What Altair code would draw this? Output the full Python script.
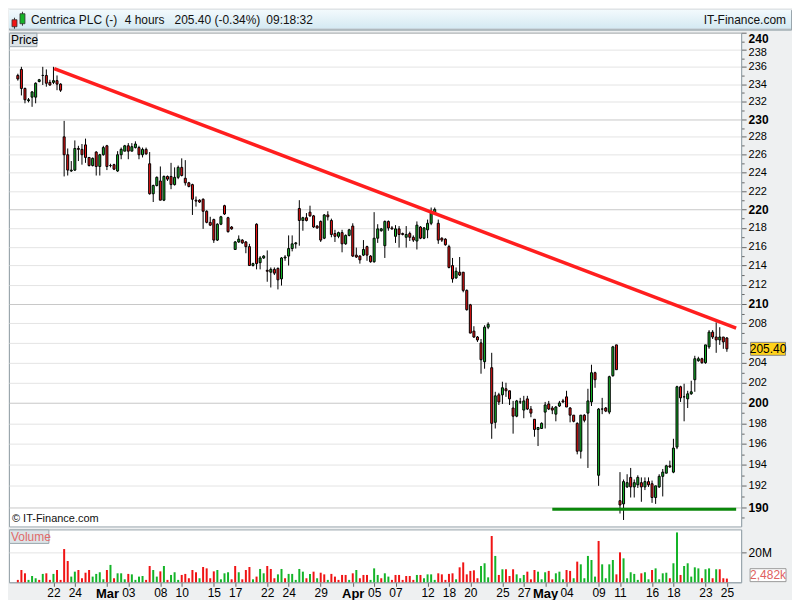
import json
import altair as alt
import pandas as pd
import numpy as np

# ---------------- data ----------------
opens = [235.0, 235.7, 233.5, 232.1, 232.5, 232.5, 234.3, 235.0, 235.0, 234.2,
         234.2, 234.4, 234.0, 228.0, 226.0, 224.2, 224.3, 226.7, 226.6, 227.1,
         225.7, 224.8, 226.3, 224.7, 226.0, 227.0, 224.8, 224.9, 224.2, 226.0,
         226.4, 227.0, 226.4, 226.8, 226.8, 226.0, 226.6, 225.0, 221.7, 222.6,
         223.1, 221.0, 223.6, 223.6, 222.7, 223.5, 224.6, 223.4, 222.9, 222.7,
         221.0, 221.0, 221.1, 219.8, 218.6, 218.9, 216.7, 218.4, 220.4, 219.1,
         218.1, 215.7, 216.5, 216.7, 216.5, 216.0, 214.0, 218.4, 214.3, 214.8,
         213.5, 213.3, 213.6, 213.7, 212.6, 214.8, 215.0, 215.8, 216.3, 220.1,
         218.8, 219.1, 219.7, 219.3, 218.2, 218.7, 216.9, 219.4, 218.8, 217.4,
         217.1, 217.5, 216.3, 217.2, 218.2, 215.1, 215.0, 215.1, 216.0, 215.0,
         214.4, 216.9, 217.7, 216.1, 218.7, 218.0, 217.1, 217.9, 217.4, 217.0,
         217.4, 217.0, 216.6, 218.1, 216.9, 217.8, 218.5, 219.6, 218.5, 216.9,
         216.8, 216.0, 214.0, 212.7, 213.3, 213.3, 211.4, 209.9, 207.2, 206.6,
         206.0, 204.1, 207.6, 203.5, 198.1, 200.8, 200.8, 201.4, 201.2, 199.5,
         198.7, 200.1, 199.3, 200.4, 199.4, 198.4, 197.4, 197.5, 199.1, 199.9,
         199.5, 198.9, 199.7, 200.2, 200.6, 199.5, 198.8, 198.0, 195.3, 198.8,
         199.0, 200.1, 203.0, 193.0, 199.4, 199.5, 199.1, 202.7, 205.8, 190.6,
         190.3, 191.9, 192.8, 191.9, 192.1, 192.3, 191.9, 192.4, 192.2, 190.9,
         191.9, 192.9, 193.2, 193.9, 193.3, 195.7, 201.6, 200.6, 200.4, 200.9,
         202.3, 204.2, 204.4, 204.0, 205.6, 207.1, 206.6, 206.3, 206.6, 206.5]

highs = [235.2, 236.0, 233.6, 232.4, 233.2, 234.2, 234.6, 236.0, 235.7, 234.5,
         236.0, 235.0, 234.1, 229.8, 226.7, 225.3, 227.6, 227.0, 227.2, 227.8,
         225.7, 225.7, 226.4, 226.1, 227.0, 227.1, 225.0, 225.0, 226.4, 226.8,
         227.1, 227.3, 227.3, 227.5, 227.0, 226.8, 226.8, 226.3, 222.7, 223.6,
         224.7, 223.7, 223.7, 225.1, 224.6, 224.8, 225.6, 225.4, 223.0, 222.8,
         221.4, 221.1, 221.2, 219.9, 219.2, 219.0, 218.5, 219.3, 220.5, 219.2,
         218.2, 216.6, 217.2, 216.8, 216.6, 216.3, 214.3, 218.5, 215.0, 215.1,
         215.6, 213.8, 213.8, 213.8, 214.9, 215.1, 217.2, 217.2, 216.5, 221.0,
         219.2, 219.6, 220.4, 219.4, 218.3, 218.8, 219.5, 219.8, 219.0, 217.8,
         217.6, 217.8, 217.3, 217.9, 218.5, 215.9, 215.1, 216.7, 216.1, 215.1,
         219.7, 218.4, 218.0, 218.8, 218.8, 218.2, 218.3, 218.2, 217.5, 218.2,
         217.6, 217.2, 218.7, 218.2, 218.1, 218.9, 220.2, 220.2, 218.9, 217.0,
         216.9, 216.2, 214.8, 213.8, 214.9, 213.3, 211.5, 210.0, 207.7, 206.7,
         206.4, 207.8, 208.1, 205.0, 201.1, 201.0, 202.1, 202.0, 201.2, 200.2,
         200.3, 200.5, 200.7, 200.7, 199.7, 198.4, 197.6, 198.1, 200.1, 200.2,
         199.7, 199.7, 200.2, 200.4, 201.2, 199.6, 198.8, 198.1, 198.8, 198.9,
         201.4, 203.8, 203.1, 199.5, 200.5, 199.6, 202.7, 205.7, 205.8, 193.3,
         192.6, 193.1, 193.7, 192.6, 193.0, 192.8, 192.8, 192.8, 192.5, 192.0,
         193.1, 193.6, 194.0, 194.4, 196.5, 201.7, 201.7, 201.9, 201.2, 202.2,
         204.7, 204.6, 204.5, 205.8, 207.3, 207.3, 208.1, 207.6, 206.6, 206.6]

lows = [234.4, 232.7, 231.8, 231.9, 231.4, 231.8, 234.2, 233.9, 233.7, 233.8,
        234.0, 233.3, 233.1, 223.6, 223.7, 224.1, 224.2, 225.3, 224.9, 225.1,
        224.7, 224.7, 223.7, 223.7, 225.9, 224.3, 224.6, 224.3, 224.1, 225.5,
        226.4, 225.5, 226.4, 226.7, 225.5, 225.7, 226.0, 221.6, 220.8, 222.5,
        221.0, 220.9, 223.1, 222.2, 222.6, 223.3, 223.6, 222.6, 222.4, 219.4,
        220.3, 220.7, 217.9, 218.5, 218.2, 216.4, 216.6, 218.3, 219.4, 217.5,
        217.8, 215.7, 216.4, 216.3, 215.3, 214.0, 213.9, 213.6, 213.6, 214.7,
        212.3, 211.7, 213.0, 211.5, 211.9, 214.5, 214.0, 215.5, 215.8, 216.1,
        217.7, 218.7, 219.2, 218.0, 217.9, 216.5, 216.8, 218.8, 217.0, 216.5,
        216.9, 215.4, 216.2, 217.1, 214.9, 214.8, 214.2, 215.0, 214.5, 214.3,
        214.3, 216.4, 217.6, 214.8, 217.7, 217.8, 216.4, 215.9, 217.2, 215.9,
        216.6, 216.5, 215.7, 216.8, 216.8, 216.9, 218.3, 219.4, 216.3, 216.5,
        216.1, 213.7, 212.2, 212.6, 212.9, 211.2, 209.3, 207.0, 206.5, 206.1,
        202.9, 203.4, 207.4, 196.5, 197.5, 199.8, 199.9, 200.6, 199.8, 197.0,
        198.6, 199.9, 198.5, 199.3, 198.6, 196.7, 195.8, 197.5, 197.5, 199.3,
        198.9, 198.2, 199.6, 200.0, 199.6, 198.1, 198.1, 195.0, 194.6, 198.1,
        193.7, 199.7, 201.5, 192.0, 198.9, 199.1, 198.9, 202.6, 203.3, 189.4,
        188.8, 191.8, 190.9, 190.9, 191.8, 190.5, 191.6, 191.9, 190.4, 190.3,
        191.8, 191.0, 193.2, 193.7, 193.2, 195.5, 200.1, 198.2, 199.5, 200.8,
        201.1, 204.1, 203.9, 203.9, 205.4, 206.4, 205.0, 205.8, 205.4, 205.1]

closes = [234.6, 233.5, 232.2, 232.2, 233.1, 234.1, 234.5, 235.0, 234.1, 233.9,
          234.4, 234.0, 233.3, 226.0, 224.3, 224.3, 226.7, 226.6, 226.0, 225.7,
          224.8, 225.6, 224.7, 226.0, 226.8, 224.7, 224.8, 224.4, 226.0, 226.6,
          227.0, 226.4, 226.9, 227.2, 226.0, 226.6, 226.1, 221.7, 222.6, 223.5,
          221.0, 223.6, 223.3, 222.7, 223.5, 224.6, 223.7, 222.9, 222.5, 221.1,
          220.9, 220.8, 219.8, 218.6, 218.3, 216.7, 218.4, 219.2, 219.5, 217.6,
          217.9, 216.5, 216.8, 216.4, 216.0, 214.0, 214.2, 214.2, 214.8, 215.0,
          213.4, 213.6, 213.2, 212.5, 214.8, 214.9, 215.8, 216.3, 216.4, 218.8,
          219.1, 218.8, 219.3, 218.1, 218.0, 216.7, 219.4, 219.2, 217.3, 217.1,
          217.5, 216.3, 217.2, 217.8, 215.0, 214.9, 214.6, 215.7, 215.1, 214.4,
          216.9, 217.9, 217.9, 218.7, 218.0, 217.9, 217.9, 217.3, 217.3, 217.3,
          217.0, 216.7, 218.3, 216.9, 218.0, 218.5, 219.6, 220.0, 216.7, 216.7,
          216.2, 213.8, 212.6, 213.4, 213.0, 211.4, 209.4, 207.0, 206.6, 206.3,
          204.3, 207.6, 207.9, 198.0, 200.7, 200.1, 201.5, 201.2, 200.4, 198.7,
          200.2, 200.1, 200.2, 199.4, 199.0, 197.4, 197.6, 198.0, 199.8, 199.4,
          199.3, 199.6, 200.0, 200.1, 199.6, 198.8, 198.2, 195.3, 198.8, 198.3,
          200.2, 203.0, 202.3, 199.4, 199.4, 199.2, 202.6, 205.6, 203.3, 190.2,
          192.4, 192.3, 191.9, 192.3, 192.8, 191.9, 192.4, 192.1, 190.9, 192.0,
          192.9, 193.3, 193.9, 193.8, 195.6, 201.6, 200.5, 200.6, 200.9, 201.1,
          204.4, 204.4, 204.0, 205.8, 207.1, 206.6, 206.3, 206.6, 206.1, 205.4]

volumes_m = [1.6, 8.2, 6.0, 1.6, 4.2, 2.7, 1.6, 5.6, 6.0, 1.6,
             5.6, 8.2, 1.6, 22.2, 14.2, 3.8, 7.1, 8.2, 2.7, 6.4,
             8.2, 3.8, 5.6, 6.7, 2.0, 8.2, 11.6, 2.7, 6.0, 6.0,
             2.0, 5.6, 5.3, 1.6, 3.8, 4.2, 1.6, 10.9, 8.2, 3.8,
             7.3, 10.9, 1.6, 4.9, 6.7, 1.6, 4.9, 5.6, 2.7, 8.2,
             6.7, 2.7, 10.2, 9.3, 2.7, 7.3, 8.2, 2.0, 6.0, 6.7,
             2.0, 10.9, 6.7, 2.0, 8.2, 10.2, 2.0, 3.8, 8.9, 6.0,
             10.9, 8.9, 2.7, 5.3, 8.9, 2.7, 5.6, 5.6, 1.6, 8.9,
             7.1, 2.7, 5.6, 7.1, 2.7, 6.4, 5.3, 1.6, 5.6, 3.8,
             1.6, 4.9, 4.9, 1.6, 6.0, 8.2, 2.7, 4.9, 4.9, 1.6,
             9.3, 4.9, 2.7, 6.0, 3.8, 1.6, 4.9, 4.9, 1.6, 4.2,
             4.2, 1.6, 4.9, 4.9, 2.7, 5.3, 5.3, 1.6, 6.0, 5.3,
             1.6, 5.6, 6.0, 2.0, 10.0, 13.3, 5.3, 7.6, 8.0, 2.7,
             10.9, 12.7, 3.3, 30.9, 17.6, 4.9, 8.7, 8.7, 4.2, 8.7,
             5.3, 2.7, 4.9, 7.1, 2.0, 8.2, 7.1, 2.0, 6.7, 7.6,
             2.0, 6.0, 7.1, 2.0, 8.2, 7.6, 2.7, 13.8, 12.0, 2.7,
             17.6, 14.9, 3.8, 27.6, 12.0, 2.7, 12.0, 14.9, 5.3, 20.0,
             16.0, 2.7, 6.7, 5.6, 1.6, 6.0, 6.7, 2.0, 8.2, 9.3,
             2.0, 6.0, 6.4, 2.7, 12.7, 33.3, 4.9, 10.9, 12.7, 3.8,
             10.0, 9.3, 2.7, 8.7, 9.3, 2.7, 8.7, 8.7, 2.7, 2.482]

vol_side = ["r", "r", "r", "g", "g", "g", "r", "g", "r", "r",
            "g", "r", "r", "r", "r", "g", "g", "r", "r", "r",
            "r", "g", "g", "g", "g", "r", "g", "r", "g", "g",
            "g", "r", "g", "g", "g", "g", "r", "r", "g", "g",
            "r", "g", "r", "g", "g", "g", "r", "r", "r", "r",
            "r", "g", "r", "r", "r", "r", "g", "g", "g", "g",
            "r", "r", "g", "r", "r", "r", "g", "r", "g", "g",
            "r", "r", "r", "g", "g", "r", "g", "g", "g", "g",
            "g", "r", "g", "r", "g", "r", "r", "g", "r", "r",
            "r", "r", "r", "g", "r", "g", "r", "r", "r", "g",
            "g", "g", "r", "g", "g", "r", "r", "r", "r", "r",
            "r", "r", "g", "r", "g", "g", "g", "g", "r", "r",
            "r", "r", "r", "g", "r", "r", "r", "r", "r", "r",
            "g", "g", "g", "r", "g", "r", "g", "r", "r", "r",
            "g", "g", "g", "r", "r", "r", "g", "g", "g", "r",
            "r", "g", "g", "g", "r", "r", "g", "r", "g", "g",
            "g", "g", "g", "r", "g", "g", "g", "g", "r", "r",
            "g", "g", "g", "g", "g", "r", "g", "g", "r", "g",
            "g", "g", "g", "r", "g", "g", "r", "g", "g", "g",
            "g", "g", "r", "g", "g", "r", "g", "r", "r", "r"]

x_tick_index = [10, 16, 25, 31, 40, 46, 55, 61, 70, 76, 85, 94, 100, 106,
                115, 121, 127, 136, 142, 148, 154, 163, 169, 178, 184, 193, 199]
x_tick_label = ["22", "24", "Mar", "03", "08", "10", "15", "17", "22", "24", "29",
                "Apr", "05", "07", "12", "18", "20", "25", "27", "May", "04", "09",
                "11", "16", "18", "23", "25"]
month_ticks = [25, 94, 148]

trend_index = [10.2, 201.6]
trend_price = [235.8, 207.5]
support_index = [150.0, 201.6]
support_price = [189.8, 189.8]

last_price = [205.40]
last_volume_k = [2482]

price_ticks = list(range(189, 241, 1))
hidden_price_label = 206          # covered by the last-price tag in the reference
header_items = ["Centrica PLC (-)", "4 hours", "205.40 (-0.34%)", "09:18:32"]
header_x = [22, 116, 166, 258]

# ---------------- styling ----------------
FONT = "Liberation Sans"
RED = "#f01414"
GREEN = "#14b428"
VRED = "#e35f5f"
VGREEN = "#5ccf45"
BORDER = "#9aa6ad"

TOTAL_W = 784
W = 734
PH = 495
VH = 53
TAG_X = W + 27

xscale = alt.Scale(domain=[-1.08, 201.6], nice=False, zero=False)
yscale = alt.Scale(type="log", domain=[188.2, 240], nice=False, zero=False)
vscale = alt.Scale(domain=[0, 35.3], nice=False, zero=True)

df = pd.DataFrame({"i": np.arange(len(opens)), "o": opens, "h": highs,
                   "l": lows, "c": closes, "v": volumes_m, "vs": vol_side})
df["dir"] = np.where(df["c"] >= df["o"], "up", "down")

tens = "datum.value % 10 == 0"
even = "datum.value % 2 == 0"
price_axis = alt.Axis(
    orient="right", values=price_ticks, format="d", title=None, grid=True,
    labelExpr=f"(datum.value % 2 == 0 && datum.value != {hidden_price_label}) ? datum.label : ''",
    gridColor={"condition": {"test": tens, "value": "#c8c8c8"}, "value": "#e4e4e4"},
    gridOpacity={"condition": {"test": even, "value": 1}, "value": 0},
    tickSize={"condition": {"test": even, "value": 5}, "value": 3},
    labelFontWeight={"condition": {"test": tens, "value": "bold"}, "value": "normal"},
    labelFontSize={"condition": {"test": tens, "value": 12}, "value": 11},
    labelOffset={"condition": {"test": "datum.value == 238", "value": 3}, "value": 0},
    labelFlush=True, labelFlushOffset=-1, labelOverlap=False, tickColor="#666666",
    domainColor=BORDER, labelPadding=2, labelColor="black")

def py(field):
    return alt.Y(field, scale=yscale, axis=price_axis)

def px(field):
    return alt.X(field, scale=xscale, axis=None)

base = alt.Chart(df)
wicks = base.mark_rule(color="black", strokeWidth=1).encode(
    x=px("i:Q"), y=py("l:Q"), y2="h:Q")
bodies = base.mark_bar(size=2, stroke="black", strokeWidth=1).encode(
    x=px("i:Q"), y=py("o:Q"), y2="c:Q",
    color=alt.Color("dir:N", scale=alt.Scale(domain=["up", "down"], range=[GREEN, RED]), legend=None))

trend = alt.Chart(pd.DataFrame({"i": trend_index, "p": trend_price})).mark_line(
    color="#ff1e1e", strokeWidth=3.5).encode(x=px("i:Q"), y=py("p:Q"))
support = alt.Chart(pd.DataFrame({"i": support_index, "p": support_price})).mark_line(
    color="#0a870a", strokeWidth=3).encode(x=px("i:Q"), y=py("p:Q"))

dummy = pd.DataFrame({"a": [0]})
price_box = alt.Chart(dummy).mark_rect(fill="#dde4e8", stroke=BORDER, strokeWidth=1).encode(
    x=alt.value(0.5), x2=alt.value(28), y=alt.value(0.5), y2=alt.value(14))
price_txt = alt.Chart(dummy).mark_text(text="Price", align="left", baseline="middle",
                                       fontSize=12, color="black").encode(
    x=alt.value(2), y=alt.value(7.5))
copy_txt = alt.Chart(dummy).mark_text(text="© IT-Finance.com", align="left", baseline="middle",
                                      fontSize=11, color="#111111").encode(
    x=alt.value(3), y=alt.value(PH - 7))

lp = pd.DataFrame({"p": last_price})
tag_box = alt.Chart(lp).mark_point(shape="M-1,-0.371H1V0.371H-1Z", size=1225, filled=True,
                                   color="#ffd21a", stroke="#888888", strokeWidth=1, opacity=1).encode(
    x=alt.value(TAG_X), y=py("p:Q"))
tag_txt = alt.Chart(lp).mark_text(fontSize=12, color="black", baseline="middle").encode(
    x=alt.value(TAG_X), y=py("p:Q"), text=alt.Text("p:Q", format=".2f"))

price = alt.layer(wicks, bodies, trend, support, price_box, price_txt, copy_txt,
                  tag_box, tag_txt).properties(width=W, height=PH)

# ---------------- volume pane ----------------
xl = json.dumps(x_tick_label)
xi = json.dumps(x_tick_index)
mt = json.dumps(month_ticks)
is_month = f"indexof({mt}, datum.value) >= 0"
x_axis = alt.Axis(
    orient="bottom", values=x_tick_index, title=None, grid=False,
    labelExpr=f"{xl}[indexof({xi}, datum.value)]",
    labelFontWeight={"condition": {"test": is_month, "value": "bold"}, "value": "normal"},
    labelFontSize={"condition": {"test": is_month, "value": 13}, "value": 12},
    tickSize=4, tickColor="#666666", domainColor=BORDER, labelPadding=1,
    labelColor="black", labelFlush=False, labelOverlap=False)
vol_axis = alt.Axis(orient="right", values=[20], labelExpr="'20M'", title=None, grid=True,
                    gridColor="#e4e4e4", tickSize=5, tickColor="#666666", domainColor=BORDER,
                    labelPadding=2, labelColor="black", labelFontSize=12)

vbars = base.mark_bar(size=2).encode(
    x=alt.X("i:Q", scale=xscale, axis=x_axis),
    y=alt.Y("v:Q", scale=vscale, axis=vol_axis),
    color=alt.Color("vs:N", scale=alt.Scale(domain=["g", "r"], range=[VGREEN, VRED]), legend=None))
vol_box = alt.Chart(dummy).mark_rect(fill="#dde4e8", stroke=BORDER, strokeWidth=1).encode(
    x=alt.value(0.5), x2=alt.value(40), y=alt.value(0.5), y2=alt.value(14))
vol_txt = alt.Chart(dummy).mark_text(text="Volume", align="left", baseline="middle",
                                     fontSize=12, color="#e06a6a").encode(
    x=alt.value(2), y=alt.value(7.5))
lv = pd.DataFrame({"k": last_volume_k})
vtag_box = alt.Chart(lv).transform_calculate(m="datum.k / 1000").mark_point(
    shape="M-1,-0.55H1V0.17H-1Z", size=1296, filled=True, color="white",
    stroke="#999999", strokeWidth=1, opacity=1).encode(
    x=alt.value(TAG_X), y=alt.Y("m:Q", scale=vscale, axis=vol_axis))
vtag_txt = alt.Chart(lv).transform_calculate(
    m="datum.k / 1000", lbl="format(datum.k, ',') + 'k'").mark_text(
    fontSize=12, color="#e06060", baseline="middle", dy=-3.5).encode(
    x=alt.value(TAG_X), y=alt.Y("m:Q", scale=vscale, axis=vol_axis), text="lbl:N")

volume = alt.layer(vbars, vol_box, vol_txt, vtag_box, vtag_txt).properties(width=W, height=VH)

# ---------------- header ----------------
grad = {"gradient": "linear", "x1": 0, "x2": 0, "y1": 0, "y2": 1,
        "stops": [{"offset": 0, "color": "#f3fafd"}, {"offset": 1, "color": "#d4e9f2"}]}
hdr_bg = alt.Chart(dummy).mark_rect(color=grad).encode(
    x=alt.value(0), x2=alt.value(TOTAL_W), y=alt.value(0), y2=alt.value(19))
hdr_line = alt.Chart(dummy).mark_rule(color=BORDER, strokeWidth=1).encode(
    x=alt.value(0), x2=alt.value(TOTAL_W), y=alt.value(19.5))
hdr_df = pd.DataFrame({"t": header_items, "px": header_x})
hdr_txt = alt.Chart(hdr_df).mark_text(align="left", baseline="middle", fontSize=12,
                                      color="#111111").encode(
    x=alt.X("px:Q", scale=None), y=alt.value(10), text="t:N")
hdr_site = alt.Chart(dummy).mark_text(text="IT-Finance.com", align="right", baseline="middle",
                                      fontSize=12, color="#111111").encode(
    x=alt.value(TOTAL_W - 5), y=alt.value(10))
icon_df = pd.DataFrame({"x0": [3, 11], "x1": [8, 16], "y0": [10, 4], "y1": [17, 14],
                        "col": [RED, GREEN]})
icon = alt.Chart(icon_df).mark_rect(stroke="#333333", strokeWidth=0.8).encode(
    x=alt.X("x0:Q", scale=None), x2="x1:Q", y=alt.Y("y0:Q", scale=None), y2="y1:Q",
    color=alt.Color("col:N", scale=None))
icon_w = pd.DataFrame({"x": [5.5, 13.5], "y0": [8, 2], "y1": [19, 16]})
iconw = alt.Chart(icon_w).mark_rule(color="#333333").encode(
    x=alt.X("x:Q", scale=None), y=alt.Y("y0:Q", scale=None), y2="y1:Q")

header = alt.layer(hdr_bg, hdr_line, iconw, icon, hdr_txt, hdr_site).properties(
    width=TOTAL_W, height=20)

chart = alt.vconcat(header, price, volume, spacing=1).properties(
    padding={"left": 0, "top": 0, "right": 0, "bottom": 0},
    background="#eef0f1"
).configure(font=FONT).configure_view(fill="white", stroke=BORDER, strokeWidth=1)

chart.save("out.html", embed_options={"renderer": "svg", "actions": False})
